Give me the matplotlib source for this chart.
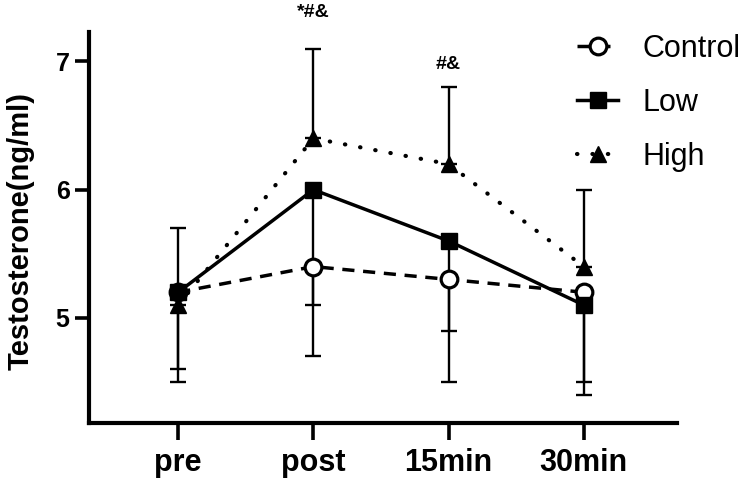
import matplotlib
matplotlib.use("Agg")
import matplotlib.pyplot as plt
import numpy as np

plt.rcParams['font.family'] = ['Liberation Sans', 'DejaVu Sans']

categories = ["pre", "post", "15min", "30min"]
control = [5.2, 5.4, 5.3, 5.2]
low = [5.2, 6.0, 5.6, 5.1]
high = [5.1, 6.4, 6.2, 5.4]
control_err_down = [0.7, 0.7, 0.8, 0.7]
low_err_down = [0.6, 0.9, 0.7, 0.7]
high_err_up = [0.6, 0.7, 0.6, 0.6]
annot_cats = ["post", "15min"]
annot_texts = ["*#&", "#&"]
annot_offsets = [0.28, 0.18]
yticks = [5, 6, 7]

x = np.arange(len(categories))
zeros = [0] * len(categories)

fig = plt.figure(figsize=(7.5, 4.86), dpi=100)
ax = fig.add_axes([89/750, 1-423/486, (677-89)/750, (423-32)/486])

ekw = dict(ecolor='black', elinewidth=1.7, capsize=6, capthick=1.7)

ax.errorbar(x, control, yerr=[control_err_down, zeros], fmt='none', zorder=2, **ekw)
ax.errorbar(x, low, yerr=[low_err_down, zeros], fmt='none', zorder=2, **ekw)
ax.errorbar(x, high, yerr=[zeros, high_err_up], fmt='none', zorder=2, **ekw)

ax.plot(x, control, linestyle=(0, (3.5, 2.5)), color='black', lw=2.5,
        marker='o', markersize=12, markerfacecolor='white', markeredgecolor='black',
        markeredgewidth=2.3, label='Control', zorder=3)
ax.plot(x, low, linestyle='-', color='black', lw=2.5,
        marker='s', markersize=11.5, markerfacecolor='black', markeredgecolor='black',
        label='Low', zorder=4)
ax.plot(x, high, linestyle=(0, (0.1, 3.6)), color='black', lw=3.0,
        dash_capstyle='round', marker='^', markersize=11.5, markerfacecolor='black',
        markeredgecolor='black', label='High', zorder=5)

for cat, txt, off in zip(annot_cats, annot_texts, annot_offsets):
    i = categories.index(cat)
    ytop = high[i] + high_err_up[i]
    ax.text(x[i], ytop + off, txt, ha='center', va='center', fontsize=14,
            fontweight='bold', clip_on=False)

ax.set_xlim(-0.66, 3.69)
ax.set_ylim(4.18, 7.23)
ax.set_xticks(x)
ax.set_xticklabels(categories, fontsize=22, fontweight='bold')
ax.set_yticks(yticks)
ax.set_yticklabels([str(t) for t in yticks], fontsize=18, fontweight='bold')
ax.tick_params(axis='x', length=12, width=2.6, pad=6)
ax.tick_params(axis='y', length=10, width=2.6, pad=4)
for s in ['top', 'right']:
    ax.spines[s].set_visible(False)
for s in ['left', 'bottom']:
    ax.spines[s].set_linewidth(3.0)

ax.set_ylabel('Testosterone(ng/ml)', fontsize=21, fontweight='bold')
ax.yaxis.set_label_coords(-0.093, 0.49)

leg = fig.legend(loc='upper left', bbox_to_anchor=(577/750, 1-34/486), frameon=False,
                 fontsize=22, handlelength=1.35, handletextpad=0.8, labelspacing=0.78,
                 borderaxespad=0, borderpad=0)

fig.savefig('out.png', dpi=100)
